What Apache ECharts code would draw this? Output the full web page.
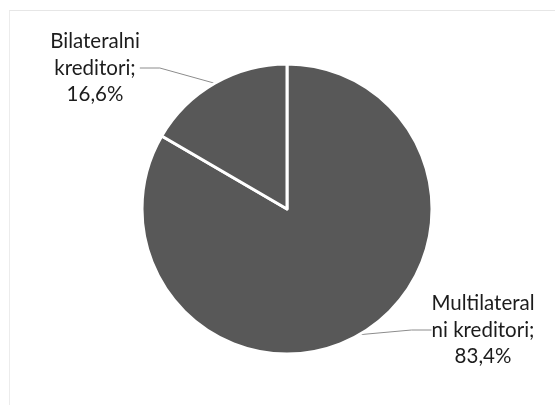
<!DOCTYPE html>
<html>
<head>
<meta charset="utf-8">
<script src="https://cdn.jsdelivr.net/npm/echarts@6/dist/echarts.min.js"></script>
<style>
html,body{margin:0;padding:0;background:#fff;}
#frame{position:absolute;left:9px;top:10px;width:560px;height:410px;border-top:1px solid #e6e6e6;border-left:1px solid #ececec;}
#chart{position:absolute;left:0;top:0;width:555px;height:405px;}
</style>
</head>
<body>
<div id="frame"></div>
<div id="chart"></div>
<script>
const categories = ['Multilateral\nni kreditori', 'Bilateralni\nkreditori'];
const values = [83.4, 16.6];
const labelPositions = [[483, 330], [95, 68]];

const chart = echarts.init(document.getElementById('chart'), null, {renderer: 'canvas'});
chart.setOption({
  animation: false,
  series: [{
    type: 'pie',
    center: [287, 209],
    radius: 145,
    startAngle: 90,
    clockwise: true,
    data: categories.map((c, i) => ({name: c, value: values[i]})),
    itemStyle: {color: '#585858', borderColor: '#ffffff', borderWidth: 3},
    label: {
      show: true,
      position: 'outside',
      formatter: p => p.name + ';\n' + p.value.toFixed(1).replace('.', ',') + '%',
      fontFamily: 'Lato, "Open Sans", sans-serif',
      fontSize: 20.5,
      lineHeight: 26.5,
      color: '#1c1c1c',
      align: 'center'
    },
    labelLine: {show: true, length: 5, length2: 20, lineStyle: {color: '#8c8c8c', width: 1}},
    labelLayout: function (params) {
      const pos = labelPositions[params.dataIndex];
      return {x: pos[0], y: pos[1], align: 'center', verticalAlign: 'middle'};
    },
    emphasis: {disabled: true}
  }]
});
</script>
</body>
</html>
